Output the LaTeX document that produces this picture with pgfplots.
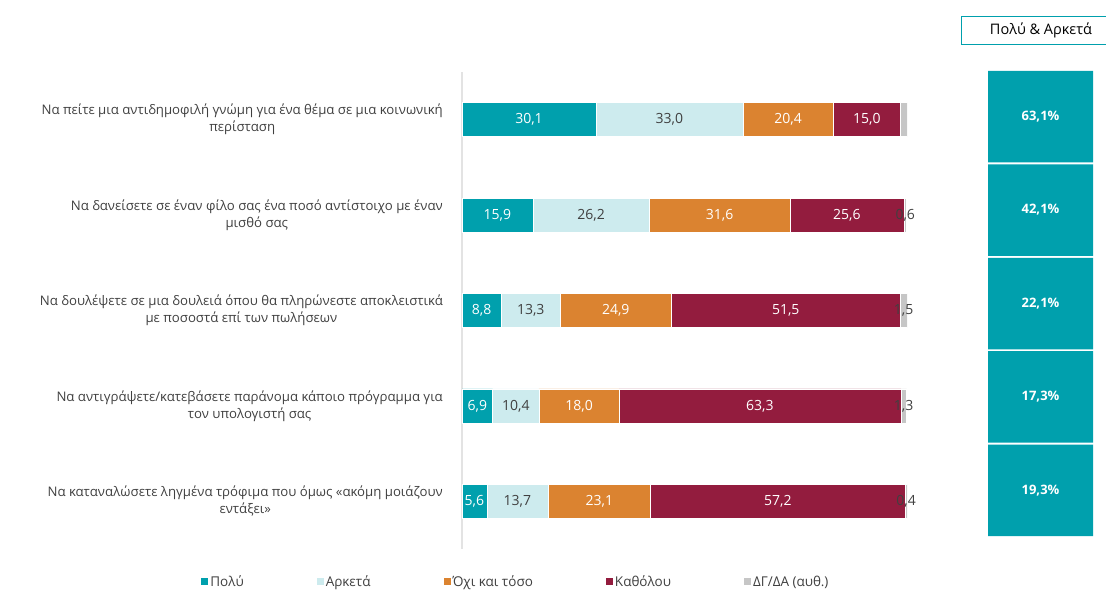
\documentclass[border=0pt]{standalone}
\usepackage{pgfplots}
\pgfplotsset{compat=1.18}
\usepackage{fontspec}
\setmainfont{Open Sans}
\definecolor{cPolu}{HTML}{00A0AD}
\definecolor{cArketa}{HTML}{CDEBEE}
\definecolor{cOxi}{HTML}{DB8330}
\definecolor{cKatholou}{HTML}{931C3E}
\definecolor{cDG}{HTML}{C6C6C6}
\definecolor{axisgray}{HTML}{E3E3E3}
\definecolor{txt}{HTML}{404040}
\begin{document}
\begin{tikzpicture}
\path[use as bounding box] (0,0) rectangle (1106pt,-590pt);
\begin{axis}[
  at={(462pt,-549pt)}, anchor=south west,
  scale only axis, width=445pt, height=477pt,
  xbar stacked, bar width=34pt,
  xmin=0, xmax=100, ymin=-0.5, ymax=4.5, y dir=reverse,
  axis x line=none, axis y line*=left,
  y axis line style={draw=axisgray, line width=1.2pt},
  ytick={0,1,2,3,4}, major tick length=0pt,
  yticklabels={
    {Να πείτε μια αντιδημοφιλή γνώμη για ένα θέμα σε μια κοινωνική\\περίσταση},
    {Να δανείσετε σε έναν φίλο σας ένα ποσό αντίστοιχο με έναν\\μισθό σας},
    {Να δουλέψετε σε μια δουλειά όπου θα πληρώνεστε αποκλειστικά\\με ποσοστά επί των πωλήσεων},
    {Να αντιγράψετε/κατεβάσετε παράνομα κάποιο πρόγραμμα για\\τον υπολογιστή σας},
    {Να καταναλώσετε ληγμένα τρόφιμα που όμως «ακόμη μοιάζουν\\εντάξει»}},
  yticklabel style={align=center, font=\fontsize{13.2}{17}\selectfont, text=txt, inner sep=0pt, xshift=-19pt},
  visualization depends on={rawx \as \rawx},
  nodes near coords={\pgfmathprintnumber[fixed,fixed zerofill,precision=1,use comma,assume math mode=true]{\rawx}},
  every node near coord/.append style={anchor=center, font=\fontsize{14}{16}\selectfont},
  legend columns=5,
  legend style={at={(0.121,-0.069)}, anchor=center, draw=none, font=\fontsize{13.5}{15}\selectfont, text=txt,
    /tikz/every even column/.append style={column sep=71pt}},
  legend image code/.code={\fill[#1,draw=none] (0pt,-3.5pt) rectangle (7pt,3.5pt);},
]
\addplot[fill=cPolu, draw=white, line width=0.5pt, nodes near coords style={text=white}] coordinates {(30.1,0) (15.9,1) (8.8,2) (6.9,3) (5.6,4)};
\addplot[fill=cArketa, draw=white, line width=0.5pt, nodes near coords style={text=txt}] coordinates {(33.0,0) (26.2,1) (13.3,2) (10.4,3) (13.7,4)};
\addplot[fill=cOxi, draw=white, line width=0.5pt, nodes near coords style={text=white}] coordinates {(20.4,0) (31.6,1) (24.9,2) (18.0,3) (23.1,4)};
\addplot[fill=cKatholou, draw=white, line width=0.5pt, nodes near coords style={text=white}] coordinates {(15.0,0) (25.6,1) (51.5,2) (63.3,3) (57.2,4)};
\addplot[fill=cDG, draw=white, line width=0.5pt, nodes near coords style={text=txt}] coordinates {(1.6,0) (0.6,1) (1.5,2) (1.3,3) (0.4,4)};
\legend{Πολύ, Αρκετά, Όχι και τόσο, Καθόλου, ΔΓ/ΔΑ (αυθ.)}
\end{axis}
\begin{axis}[
  at={(988pt,-537pt)}, anchor=south west,
  scale only axis, width=105pt, height=467pt,
  xmin=0, xmax=1, ymin=-0.5, ymax=4.5, y dir=reverse,
  hide axis,
]
\addplot[xbar, bar width=91.5pt, fill=cPolu, draw=none] coordinates {(1,0) (1,1) (1,2) (1,3) (1,4)};
\addplot[draw=none, mark=none, point meta=explicit,
  nodes near coords={\pgfmathprintnumber[fixed,fixed zerofill,precision=1,use comma,assume math mode=true]{\pgfplotspointmeta}\%},
  every node near coord/.style={anchor=center, text=white, font=\bfseries\fontsize{13}{15}\selectfont}]
  coordinates {(0.5,0) [63.1] (0.5,1) [42.1] (0.5,2) [22.1] (0.5,3) [17.3] (0.5,4) [19.3]};
\end{axis}
\node[draw=cPolu, line width=1pt, minimum width=150pt, minimum height=28pt, anchor=west, inner sep=0pt] at (961pt,-30pt) {};
\node[font=\fontsize{14.5}{17}\selectfont, text=black] at (1041pt,-30pt) {Πολύ \& Αρκετά};
\end{tikzpicture}
\end{document}
